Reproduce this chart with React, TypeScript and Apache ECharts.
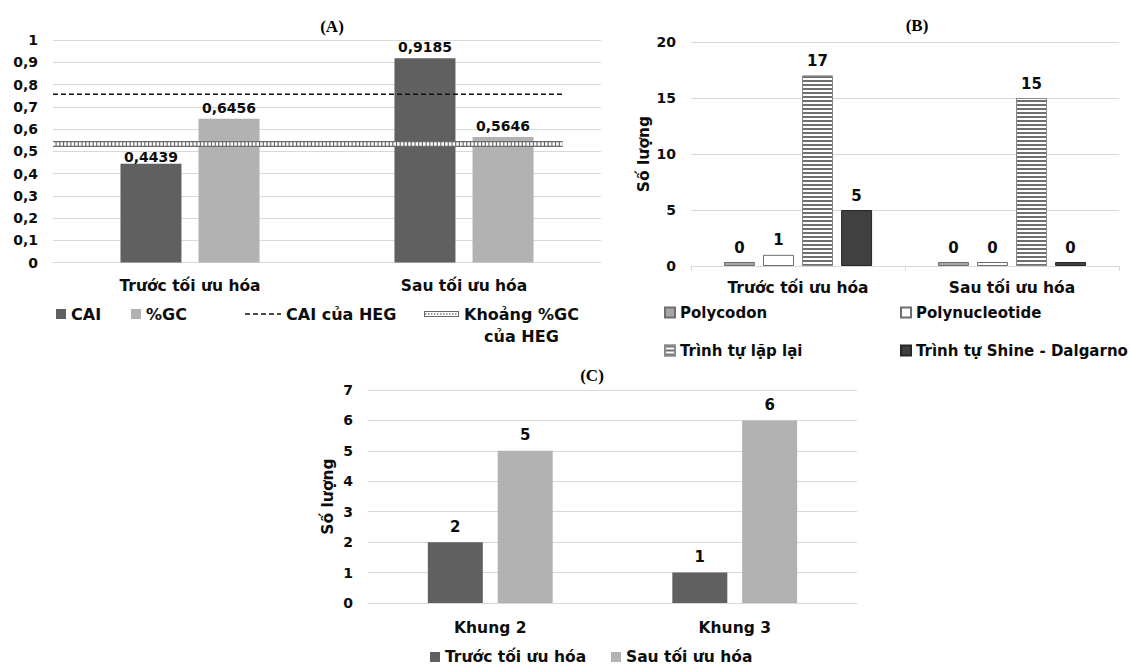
import React, { useEffect, useRef } from 'react';
import * as echarts from 'echarts';

// ---------- data ----------
const categoriesAB = ['Trước tối ưu hóa', 'Sau tối ưu hóa'];
const caiValues = [0.4439, 0.9185];
const gcValues = [0.6456, 0.5646];
const hegCaiValue = 0.756;
const hegGcValue = 0.533;
const hegLineExtent = [0, 0.93];
const yTicksA = [0, 1, 0.1]; // min, max, step

const polycodon = [0, 0];
const polynucleotide = [1, 0];
const repeats = [17, 15];
const shineDalgarno = [5, 0];
const yTicksB = [0, 20, 5];

const categoriesC = ['Khung 2', 'Khung 3'];
const beforeOpt = [2, 1];
const afterOpt = [5, 6];
const yTicksC = [0, 7, 1];

// ---------- styles ----------
const FONT = '"DejaVu Sans", "Liberation Sans", sans-serif';
const SERIF = '"Liberation Serif", "Times New Roman", serif';
const TXT = '#0d0d0d';
const GRID = '#d9d9d9';
const DARK = '#606060';
const LIGHT = '#b2b2b2';

const svgIcon = (svg: string) => 'image://data:image/svg+xml;charset=utf-8,' + encodeURIComponent(svg);
const hatchIcon = svgIcon(
  "<svg xmlns='http://www.w3.org/2000/svg' width='35' height='6'>" +
    "<rect x='0.5' y='0.5' width='34' height='5' fill='#ffffff' stroke='#6a6a6a'/>" +
    "<line x1='1' y1='3' x2='34' y2='3' stroke='#a0a0a0' stroke-width='2' stroke-dasharray='1.5 1.5'/>" +
    '</svg>'
);
const dashIcon = svgIcon(
  "<svg xmlns='http://www.w3.org/2000/svg' width='36' height='4'>" +
    "<line x1='0' y1='2' x2='36' y2='2' stroke='#111111' stroke-width='1.5' stroke-dasharray='5 3'/>" +
    '</svg>'
);

const comma = (v: number) => String(Math.round(v * 10000) / 10000).replace('.', ',');

function legendItem(name: string, left: number, top: number, extra: any = {}) {
  return {
    show: true,
    data: [{ name, icon: extra.icon ?? 'rect' }],
    left,
    top,
    padding: 0,
    itemGap: 0,
    itemWidth: extra.itemWidth ?? 10,
    itemHeight: extra.itemHeight ?? 10,
    selectedMode: false,
    textStyle: {
      fontFamily: FONT,
      fontWeight: 'bold',
      fontSize: extra.fontSize ?? 16,
      color: TXT,
      ...(extra.textStyle || {}),
    },
    ...(extra.formatter ? { formatter: extra.formatter } : {}),
  };
}

const valueAxis = (grid: number, ticks: number[], name?: string, nameGap?: number, fmt?: any) => ({
  type: 'value',
  gridIndex: grid,
  min: ticks[0],
  max: ticks[1],
  interval: ticks[2],
  name: name,
  nameLocation: 'middle',
  nameGap: nameGap,
  nameRotate: 90,
  nameTextStyle: { fontFamily: FONT, fontWeight: 'bold', fontSize: 15.5, color: TXT },
  axisLine: { show: false },
  axisTick: { show: false },
  splitLine: { show: true, lineStyle: { color: GRID, width: 1.2 } },
  axisLabel: {
    fontFamily: FONT,
    fontWeight: 'bold',
    fontSize: 14,
    color: TXT,
    margin: 15,
    formatter: fmt,
  },
});

const catAxis = (grid: number, data: string[], ticks = false, margin = 14) => ({
  type: 'category',
  gridIndex: grid,
  data,
  axisLine: { show: true, lineStyle: { color: GRID, width: 1.2 } },
  axisTick: { show: ticks, length: 5, lineStyle: { color: GRID } },
  axisLabel: { fontFamily: FONT, fontWeight: 'bold', fontSize: 15.5, color: TXT, margin },
});

const barLabel = (size: number, distance: number, fmt?: any) => ({
  show: true,
  position: 'top',
  distance,
  fontFamily: FONT,
  fontWeight: 'bold',
  fontSize: size,
  color: TXT,
  ...(fmt ? { formatter: fmt } : {}),
});

const titleText = (text: string, x: number, y: number) => ({
  type: 'text',
  x,
  y,
  style: {
    text,
    font: `bold 17px ${SERIF}`,
    fill: '#000',
    textAlign: 'center',
    textVerticalAlign: 'middle',
    align: 'center',
    verticalAlign: 'middle',
  },
});

export default function App() {
  const ref = useRef<HTMLDivElement>(null);

  useEffect(() => {
    if (!ref.current) return;
    const chart = echarts.init(ref.current, undefined, { renderer: 'svg' });

    const option: any = {
      animation: false,
      backgroundColor: '#ffffff',
      grid: [
        { left: 53, top: 40, width: 548, height: 222.5 },
        { left: 691, top: 42, width: 428, height: 224 },
        { left: 368, top: 390, width: 489, height: 213 },
      ],
      xAxis: [
        catAxis(0, categoriesAB, false, 15),
        { type: 'value', gridIndex: 0, min: 0, max: 1, show: false },
        catAxis(1, categoriesAB, true, 14),
        catAxis(2, categoriesC, false, 17),
      ],
      yAxis: [
        valueAxis(0, yTicksA, undefined, undefined, (v: number) => String(Math.round(v * 10) / 10).replace('.', ',')),
        valueAxis(1, yTicksB, 'Số lượng', 39),
        valueAxis(2, yTicksC, 'Số lượng', 32),
      ],
      legend: [
        legendItem('CAI', 56, 306),
        legendItem('%GC', 131, 306),
        legendItem('CAI của HEG', 245, 306, { icon: dashIcon, itemWidth: 36, itemHeight: 4 }),
        legendItem('Khoảng %GC của HEG', 424, 306, {
          icon: hatchIcon,
          itemWidth: 35,
          itemHeight: 6,
          formatter: () => '{a|Khoảng %GC}\n{a|của HEG}',
          textStyle: {
            padding: [22, 0, 0, 0],
            rich: {
              a: { fontFamily: FONT, fontWeight: 'bold', fontSize: 16, lineHeight: 22, color: TXT, align: 'center' },
            },
          },
        }),
        legendItem('Polycodon', 664, 305, { fontSize: 15 }),
        legendItem('Trình tự lặp lại', 664, 343, { fontSize: 15 }),
        legendItem('Polynucleotide', 900, 305, { fontSize: 15 }),
        legendItem('Trình tự Shine - Dalgarno', 900, 343, { fontSize: 15 }),
        legendItem('Trước tối ưu hóa', 430, 649, { fontSize: 15.5 }),
        legendItem('Sau tối ưu hóa', 611, 649, { fontSize: 15.5 }),
      ],
      graphic: [titleText('(A)', 332, 26), titleText('(B)', 917, 25), titleText('(C)', 592, 375)],
      series: [
        // ---- Panel A ----
        {
          name: 'CAI', type: 'bar', xAxisIndex: 0, yAxisIndex: 0,
          barWidth: 61, barGap: '28%',
          itemStyle: { color: DARK },
          label: barLabel(14, 4, (p: any) => comma(p.value)),
          data: caiValues.map((v, i) => (i === 0 ? { value: v, label: { distance: 0 } } : v)),
        },
        {
          name: '%GC', type: 'bar', xAxisIndex: 0, yAxisIndex: 0,
          barWidth: 61, barGap: '28%',
          itemStyle: { color: LIGHT },
          label: barLabel(14, 4, (p: any) => comma(p.value)),
          data: gcValues,
        },
        {
          name: 'CAI của HEG', type: 'line', xAxisIndex: 1, yAxisIndex: 0,
          symbol: 'none', silent: true,
          lineStyle: { color: '#111', width: 1.5, type: [5, 3] },
          itemStyle: { color: '#111' },
          data: hegLineExtent.map((x) => [x, hegCaiValue]),
        },
        {
          name: 'Khoảng %GC của HEG', type: 'line', xAxisIndex: 1, yAxisIndex: 0,
          symbol: 'none', silent: true,
          lineStyle: { color: '#6a6a6a', width: 6 },
          itemStyle: { color: '#6a6a6a' },
          data: hegLineExtent.map((x) => [x, hegGcValue]),
        },
        {
          name: '_gcInner', type: 'line', xAxisIndex: 1, yAxisIndex: 0,
          symbol: 'none', silent: true,
          lineStyle: { color: '#ffffff', width: 3.5, type: [2.5, 1.2] },
          data: hegLineExtent.map((x) => [x, hegGcValue]),
        },
        // ---- Panel B ----
        {
          name: 'Polycodon', type: 'bar', xAxisIndex: 2, yAxisIndex: 1,
          barWidth: 31, barGap: '26%', barMinHeight: 4,
          itemStyle: { color: '#a6a6a6', borderColor: '#6e6e6e', borderWidth: 1 },
          label: barLabel(15, 7),
          data: polycodon,
        },
        {
          name: 'Polynucleotide', type: 'bar', xAxisIndex: 2, yAxisIndex: 1,
          barWidth: 31, barGap: '26%', barMinHeight: 4,
          itemStyle: { color: '#ffffff', borderColor: '#6e6e6e', borderWidth: 1 },
          label: barLabel(15, 7),
          data: polynucleotide,
        },
        {
          name: 'Trình tự lặp lại', type: 'bar', xAxisIndex: 2, yAxisIndex: 1,
          barWidth: 31, barGap: '26%', barMinHeight: 4,
          itemStyle: {
            color: '#ffffff', borderColor: '#8a8a8a', borderWidth: 1,
            decal: { symbol: 'rect', symbolSize: 1, dashArrayX: [1, 0], dashArrayY: [1.2, 2], color: '#6f6f6f', rotation: 0 },
          },
          label: barLabel(15, 7),
          data: repeats,
        },
        {
          name: 'Trình tự Shine - Dalgarno', type: 'bar', xAxisIndex: 2, yAxisIndex: 1,
          barWidth: 31, barGap: '26%', barMinHeight: 4,
          itemStyle: { color: '#404040', borderColor: '#262626', borderWidth: 1 },
          label: barLabel(15, 7),
          data: shineDalgarno,
        },
        // ---- Panel C ----
        {
          name: 'Trước tối ưu hóa', type: 'bar', xAxisIndex: 3, yAxisIndex: 2,
          barWidth: 55, barGap: '27%',
          itemStyle: { color: DARK },
          label: barLabel(15, 8),
          data: beforeOpt,
        },
        {
          name: 'Sau tối ưu hóa', type: 'bar', xAxisIndex: 3, yAxisIndex: 2,
          barWidth: 55, barGap: '27%',
          itemStyle: { color: LIGHT },
          label: barLabel(15, 8),
          data: afterOpt,
        },
      ],
    };

    chart.setOption(option);
    return () => chart.dispose();
  }, []);

  return (
    <div
      ref={ref}
      style={{ position: 'fixed', left: 0, top: 0, width: 1130, height: 666, background: '#fff' }}
    />
  );
}
